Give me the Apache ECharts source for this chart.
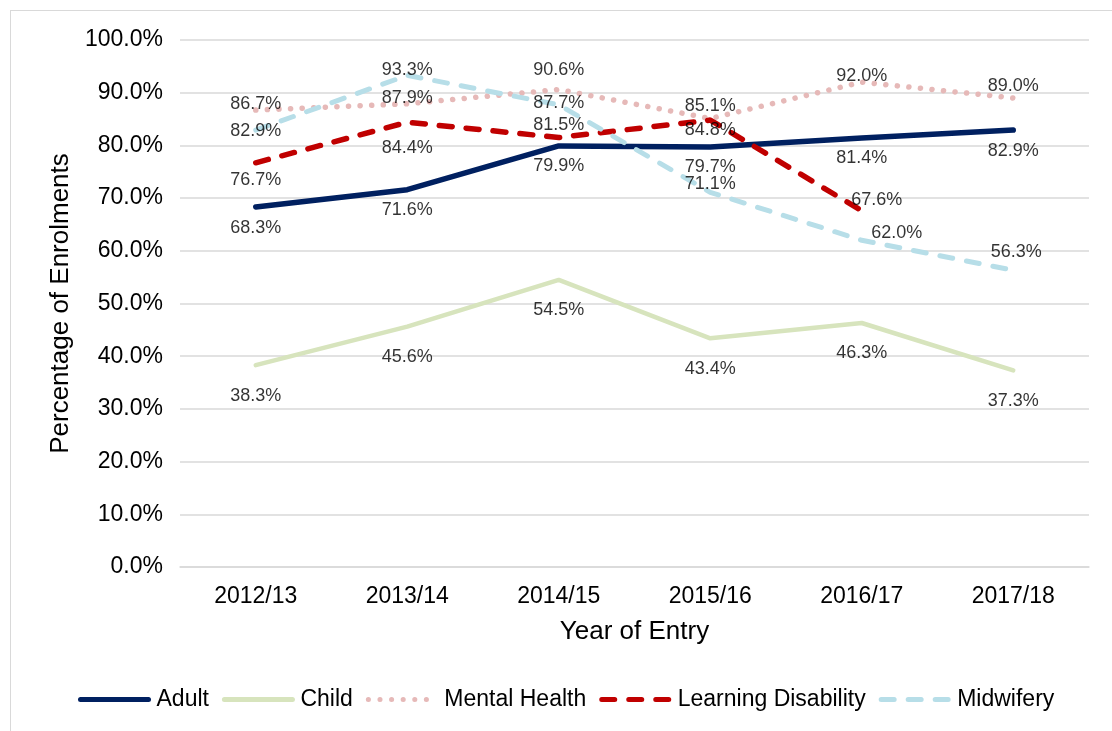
<!DOCTYPE html>
<html>
<head>
<meta charset="utf-8">
<script src="https://cdn.jsdelivr.net/npm/echarts@6/dist/echarts.min.js"></script>
<style>
  html, body { margin: 0; padding: 0; overflow: hidden; background: #fff; }
  #frame { position: absolute; left: 10px; top: 10px; width: 1200px; height: 800px; border: 1.5px solid #d9d9d9; }
  #main { position: absolute; left: 0; top: 0; width: 1112px; height: 731px; }
</style>
</head>
<body>
<div id="frame"></div>
<div id="main"></div>
<script>
// 数据
var years = ['2012/13', '2013/14', '2014/15', '2015/16', '2016/17', '2017/18'];
var adult = [68.3, 71.6, 79.9, 79.7, 81.4, 82.9];
var child = [38.3, 45.6, 54.5, 43.4, 46.3, 37.3];
var mentalHealth = [86.7, 87.9, 90.6, 85.1, 92.0, 89.0];
var learningDisability = [76.7, 84.4, 81.5, 84.8, 67.6, null];
var midwifery = [82.9, 93.3, 87.7, 71.1, 62.0, 56.3];

// 标签微调 [dx, dy]
var nudgeMH = [[0, 4], [0, 5], [0, -9], [0, -2], [0, 4], [0, -1]];
var nudgeLD = [[0, 3], [0, 11], [0, -27], [0, -5], [15, -25], [0, 0]];
var nudgeMW = [[0, 6], [0, 0], [0, 4], [0, -3], [35, -2], [3, -13]];

var myChart = echarts.init(document.getElementById('main'));
var font = 'Liberation Sans, Arial, sans-serif';

function pct(p) { return p.value.toFixed(1) + '%'; }

// 折线
function makeLine(name, data, color, width, type) {
  return {
    name: name,
    type: 'line',
    data: data,
    symbol: 'none',
    z: 2,
    lineStyle: {color: color, width: width, type: type, cap: 'round'},
    itemStyle: {color: color}
  };
}

// 数据标签（透明散点）
function makeLabels(data, labelPos, dist, nudge) {
  var items = [];
  for (var i = 0; i < data.length; i++) {
    var item = {value: data[i]};
    if (nudge) item.label = {offset: nudge[i]};
    items.push(item);
  }
  return {
    name: '_lbl',
    type: 'scatter',
    data: items,
    symbolSize: 1,
    itemStyle: {color: 'rgba(0,0,0,0)'},
    silent: true,
    z: 5,
    label: {show: true, position: labelPos, distance: dist, formatter: pct,
            color: '#000', fontSize: 18, fontFamily: font}
  };
}

option = {
  animation: false,
  grid: {left: 180, right: 23, top: 40, bottom: 164},
  legend: {
    bottom: 15, left: 73,
    itemWidth: 68, itemHeight: 14, itemGap: 13,
    itemStyle: {opacity: 0},
    lineStyle: {width: 5},
    textStyle: {fontSize: 23, fontFamily: font, color: '#000', padding: [0, 0, 0, 3]},
    data: ['Adult', 'Child', 'Mental Health', 'Learning Disability', 'Midwifery']
  },
  xAxis: {
    type: 'category', data: years, boundaryGap: true,
    name: 'Year of Entry', nameLocation: 'middle', nameGap: 52,
    nameTextStyle: {fontSize: 26, fontFamily: font, color: '#000'},
    axisLine: {lineStyle: {color: '#d9d9d9', width: 1.5}},
    axisTick: {show: false},
    axisLabel: {fontSize: 23, fontFamily: font, color: '#000', margin: 18}
  },
  yAxis: {
    type: 'value', min: 0, max: 100, interval: 10,
    name: 'Percentage of Enrolments', nameLocation: 'middle', nameGap: 105,
    nameTextStyle: {fontSize: 26, fontFamily: font, color: '#000'},
    axisLine: {show: false}, axisTick: {show: false},
    axisLabel: {fontSize: 23, fontFamily: font, color: '#000', margin: 17,
                formatter: function (v) { return v.toFixed(1) + '%'; }},
    splitLine: {lineStyle: {color: '#d9d9d9', width: 1.5}}
  },
  series: [
    makeLine('Adult', adult, '#002060', 5.5, 'solid'),
    makeLine('Child', child, '#d7e4bd', 4.5, 'solid'),
    makeLine('Mental Health', mentalHealth, '#e6b9b8', 5.5, [0.1, 11.5]),
    makeLine('Learning Disability', learningDisability, '#c00000', 5.5, [13, 14]),
    makeLine('Midwifery', midwifery, '#b7dee8', 5, [13, 14]),
    makeLabels(adult, 'bottom', 11),
    makeLabels(child, 'bottom', 21),
    makeLabels(mentalHealth, 'top', 1, nudgeMH),
    makeLabels(learningDisability, 'bottom', 5, nudgeLD),
    makeLabels(midwifery, 'top', -4, nudgeMW)
  ]
};
myChart.setOption(option);
</script>
</body>
</html>
